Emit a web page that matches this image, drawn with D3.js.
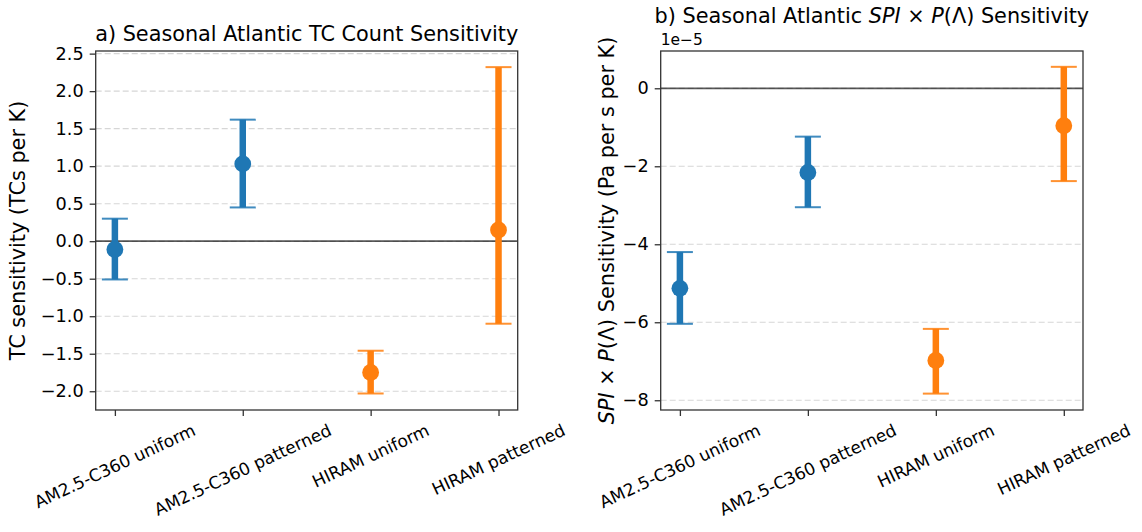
<!DOCTYPE html>
<html lang="en">
<head>
<meta charset="UTF-8">
<script src="https://cdn.jsdelivr.net/npm/d3@7"></script>
<title>Seasonal Atlantic sensitivity</title>
<style>
  body { margin: 0; background: #fff; }
  text { font-family: "DejaVu Sans", sans-serif; fill: #000; }
</style>
</head>
<body>
<script>
// categories and values
const categories = ["AM2.5-C360 uniform", "AM2.5-C360 patterned", "HIRAM uniform", "HIRAM patterned"]
const groupColors = ["#1f77b4", "#1f77b4", "#ff7f0e", "#ff7f0e"]

// a) TC count sensitivity (TCs per K)
const tcMean = [-0.11, 1.03, -1.75, 0.15]
const tcLow  = [-0.51, 0.45, -2.03, -1.10]
const tcHigh = [0.30, 1.62, -1.46, 2.32]
const tcTicks = [-2.0, -1.5, -1.0, -0.5, 0.0, 0.5, 1.0, 1.5, 2.0, 2.5]

// b) SPI x P(Lambda) sensitivity (Pa per s per K)
const spiMean = [-5.13e-5, -2.16e-5, -6.98e-5, -0.96e-5]
const spiLow  = [-6.04e-5, -3.05e-5, -7.83e-5, -2.38e-5]
const spiHigh = [-4.20e-5, -1.24e-5, -6.17e-5, 0.55e-5]
const spiTicks = [-8e-5, -6e-5, -4e-5, -2e-5, 0]

const W = 1142, H = 532
const titleSize = 20.8, labelSize = 20.8, yTickSize = 17.7, xTickSize = 17
const svg = d3.select("body").append("svg").attr("width", W).attr("height", H)
svg.append("rect").attr("width", W).attr("height", H).attr("fill", "#fff")

function panel(opt) {
    const x = d3.scaleLinear().domain([-0.15, 3.15]).range([opt.left, opt.right])
    const y = d3.scaleLinear().domain(opt.domain).range([opt.bottom, opt.top])
    const g = svg.append("g")

    // grid lines
    g.selectAll(".grid").data(opt.ticks).enter().append("line")
        .attr("x1", opt.left).attr("x2", opt.right)
        .attr("y1", d => y(d)).attr("y2", d => y(d))
        .attr("stroke", "#d6d6d6").attr("stroke-width", 1.1).attr("stroke-dasharray", "6,3")

    // zero line
    g.append("line").attr("x1", opt.left).attr("x2", opt.right)
        .attr("y1", y(0)).attr("y2", y(0))
        .attr("stroke", "#000").attr("stroke-opacity", 0.65).attr("stroke-width", 1.8)

    // error bars
    const idx = d3.range(categories.length)
    g.selectAll(".bar").data(idx).enter().append("line")
        .attr("x1", i => x(i)).attr("x2", i => x(i))
        .attr("y1", i => y(opt.low[i])).attr("y2", i => y(opt.high[i]))
        .attr("stroke", i => groupColors[i]).attr("stroke-width", 6.5)
    ;[opt.low, opt.high].forEach(arr => {
        g.selectAll(null).data(idx).enter().append("line")
            .attr("x1", i => x(i) - 13).attr("x2", i => x(i) + 13)
            .attr("y1", i => y(arr[i])).attr("y2", i => y(arr[i]))
            .attr("stroke", i => groupColors[i]).attr("stroke-width", 2).attr("stroke-opacity", 0.85)
    })
    g.selectAll(".dot").data(idx).enter().append("circle")
        .attr("cx", i => x(i)).attr("cy", i => y(opt.mean[i])).attr("r", 8.4)
        .attr("fill", i => groupColors[i])

    // frame
    g.append("rect").attr("x", opt.left).attr("y", opt.top)
        .attr("width", opt.right - opt.left).attr("height", opt.bottom - opt.top)
        .attr("fill", "none").attr("stroke", "#333").attr("stroke-width", 1.3)

    // y axis
    const yAxis = d3.axisLeft(y).tickValues(opt.ticks).tickSize(6).tickPadding(6).tickFormat(opt.fmt)
    const ya = g.append("g").attr("transform", `translate(${opt.left},0)`).call(yAxis)
    ya.select(".domain").remove()
    ya.selectAll("line").attr("stroke", "#333").attr("stroke-width", 1.3)
    ya.selectAll("text").attr("font-size", yTickSize).attr("font-family", "DejaVu Sans").attr("fill", "#000")

    // x axis
    const xAxis = d3.axisBottom(x).tickValues(idx).tickSize(6).tickFormat("")
    const xa = g.append("g").attr("transform", `translate(0,${opt.bottom})`).call(xAxis)
    xa.select(".domain").remove()
    xa.selectAll("line").attr("stroke", "#333").attr("stroke-width", 1.3)

    // rotated category labels, bbox centred under tick
    const ang = 25 * Math.PI / 180
    idx.forEach(i => {
        const t = g.append("text").attr("font-size", xTickSize).attr("text-anchor", "middle")
            .attr("dy", "0.35em").text(categories[i])
        const L = t.node().getComputedTextLength()
        const h = xTickSize * 1.17
        const bh = L * Math.sin(ang) + h * Math.cos(ang)
        const cy = opt.bottom + 10 + bh / 2
        t.attr("transform", `translate(${x(i)},${cy}) rotate(-25)`)
    })

    return { x, y }
}

// panel a
const aL = 95.7, aR = 517.7
panel({
    left: aL, right: aR, top: 51, bottom: 410,
    domain: [-2.25, 2.535], ticks: tcTicks,
    mean: tcMean, low: tcLow, high: tcHigh,
    fmt: d3.format(".1f")
})
svg.append("text").attr("x", (aL + aR) / 2).attr("y", 40.7).attr("text-anchor", "middle")
    .attr("font-size", titleSize).text("a) Seasonal Atlantic TC Count Sensitivity")
svg.append("text").attr("transform", `translate(25,230.5) rotate(-90)`).attr("text-anchor", "middle")
    .attr("font-size", labelSize).text("TC sensitivity (TCs per K)")

// panel b
const bL = 660.7, bR = 1083
panel({
    left: bL, right: bR, top: 51, bottom: 410,
    domain: [-8.25e-5, 0.956e-5], ticks: spiTicks,
    mean: spiMean, low: spiLow, high: spiHigh,
    fmt: d => d3.format("d")(Math.round(d / 1e-5))
})
svg.append("text").attr("x", bL).attr("y", 45).attr("font-size", 15.5).text("1e\u22125")

const tb = svg.append("text").attr("x", (bL + bR) / 2).attr("y", 23.3)
    .attr("text-anchor", "middle").attr("font-size", titleSize)
tb.append("tspan").text("b) Seasonal Atlantic ")
tb.append("tspan").attr("font-style", "italic").text("SPI")
tb.append("tspan").text(" \u00d7 ")
tb.append("tspan").attr("font-style", "italic").text("P")
tb.append("tspan").text("(\u039b) Sensitivity")

const yb = svg.append("text").attr("transform", `translate(614,230.5) rotate(-90)`)
    .attr("text-anchor", "middle").attr("font-size", labelSize)
yb.append("tspan").attr("font-style", "italic").text("SPI")
yb.append("tspan").text(" \u00d7 ")
yb.append("tspan").attr("font-style", "italic").text("P")
yb.append("tspan").text("(\u039b) Sensitivity (Pa per s per K)")
</script>
</body>
</html>
